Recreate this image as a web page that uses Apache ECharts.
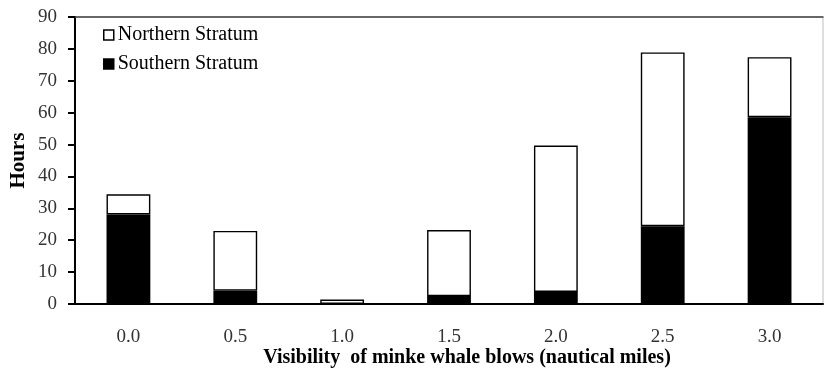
<!DOCTYPE html>
<html>
<head>
<meta charset="utf-8">
<script src="https://cdn.jsdelivr.net/npm/echarts@6/dist/echarts.min.js"></script>
<style>
  html, body { margin: 0; padding: 0; background: #fff; }
  #chart { width: 825px; height: 369px; }
</style>
</head>
<body>
<div id="chart"></div>
<script>
// Visibility categories (nautical miles)
const categories = ['0.0', '0.5', '1.0', '1.5', '2.0', '2.5', '3.0'];
// Survey hours per stratum
const southernHours = [28.1, 4.2, 0, 2.5, 3.8, 24.4, 58.6];
const northernHours = [6.3, 18.7, 1.4, 20.7, 45.9, 54.5, 18.8];

const serif = '"Liberation Serif", "DejaVu Serif", serif';

const chart = echarts.init(document.getElementById('chart'));
chart.setOption({
  animation: false,
  backgroundColor: '#ffffff',
  grid: {
    left: 75, right: 2, top: 17, bottom: 65,
    outerBoundsMode: 'none',
    containLabel: false,
    show: true, borderColor: '#bfbfbf', borderWidth: 1
  },
  legend: {
    data: [
      { name: 'Northern Stratum', itemStyle: { color: '#fff', borderColor: '#000', borderWidth: 1.5 } },
      { name: 'Southern Stratum', itemStyle: { color: '#000', borderColor: '#000', borderWidth: 1.5 } }
    ],
    orient: 'vertical',
    left: 98, top: 20,
    itemWidth: 10, itemHeight: 10, itemGap: 9,
    icon: 'rect',
    textStyle: { fontFamily: serif, fontSize: 20, color: '#000', padding: [0, 0, 0, -1] }
  },
  xAxis: [{
    type: 'category',
    data: categories,
    position: 'bottom',
    axisLine: { lineStyle: { color: '#000', width: 2 } },
    axisTick: { show: false },
    axisLabel: { fontFamily: serif, fontSize: 19, color: '#333', margin: 24 },
    name: 'Visibility  of minke whale blows (nautical miles)',
    nameLocation: 'middle',
    nameGap: 44,
    nameMoveOverlap: false,
    nameTextStyle: { fontFamily: serif, fontSize: 20, fontWeight: 'bold', color: '#000', padding: [0, 0, 0, 36] }
  }, {
    type: 'category',
    data: categories,
    position: 'top',
    axisLine: { lineStyle: { color: '#404040', width: 1.5 } },
    axisTick: { show: false },
    axisLabel: { show: false }
  }],
  yAxis: {
    type: 'value',
    min: 0, max: 90, interval: 10,
    axisLine: { show: true, lineStyle: { color: '#000', width: 2 } },
    axisTick: { show: true, inside: false, length: 7, lineStyle: { color: '#000', width: 2 } },
    splitLine: { show: false },
    axisLabel: { fontFamily: serif, fontSize: 19, color: '#333', margin: 18 },
    name: 'Hours',
    nameLocation: 'middle',
    nameGap: 46,
    nameMoveOverlap: false,
    nameTextStyle: { fontFamily: serif, fontSize: 21, fontWeight: 'bold', color: '#000' }
  },
  series: [{
    name: 'Southern Stratum',
    type: 'bar',
    stack: 'hours',
    barWidth: '41%',
    data: southernHours,
    itemStyle: { color: '#000', borderColor: '#000', borderWidth: 0 }
  }, {
    name: 'Northern Stratum',
    type: 'bar',
    stack: 'hours',
    barWidth: '41%',
    data: northernHours,
    itemStyle: { color: '#fff', borderColor: '#000', borderWidth: 1.4 }
  }]
});
</script>
</body>
</html>
